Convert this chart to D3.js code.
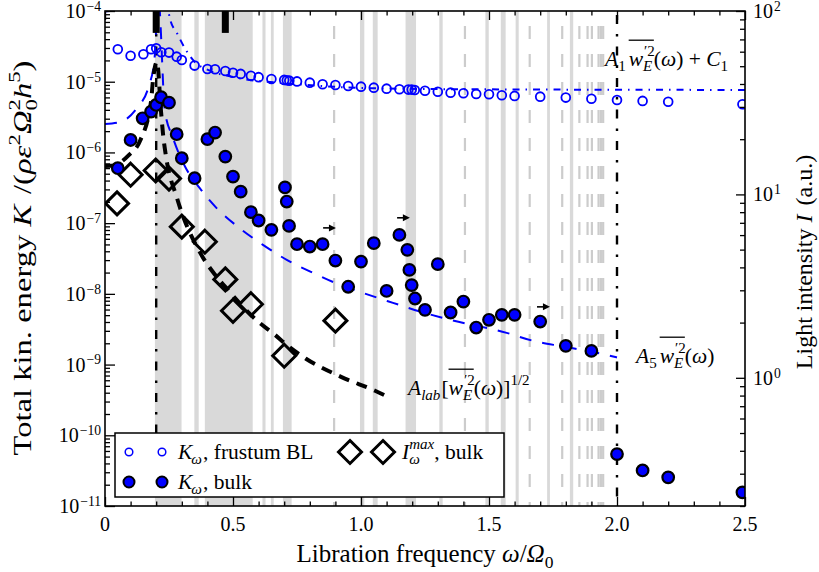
<!DOCTYPE html>
<html>
<head>
<meta charset="utf-8">
<script src="https://cdn.jsdelivr.net/npm/d3@7"></script>
<style>
  body { margin: 0; background: #fff; }
  svg text { font-family: "Liberation Serif", "DejaVu Serif", serif; fill: #000; white-space: pre; }
</style>
</head>
<body>
<svg id="chart" width="819" height="572"></svg>
<script>
// ── Kinetic energy, frustum boundary layer (open circles) ──
const omegaBL = [0.05, 0.10, 0.15, 0.18, 0.20, 0.22, 0.25, 0.28, 0.30, 0.35, 0.40, 0.43, 0.47, 0.50,
  0.53, 0.57, 0.60, 0.65, 0.70, 0.71, 0.72, 0.75, 0.80, 0.85, 0.90, 0.95, 1.00, 1.05, 1.10, 1.15,
  1.185, 1.198, 1.21, 1.25, 1.30, 1.35, 1.40, 1.45, 1.50, 1.55, 1.60, 1.70, 1.80, 1.90, 2.00, 2.10,
  2.20, 2.49];
const kinBL = [2.88e-5, 2.33e-5, 2.44e-5, 2.88e-5, 2.97e-5, 2.61e-5, 2.58e-5, 2.26e-5, 2.03e-5, 1.69e-5,
  1.51e-5, 1.50e-5, 1.42e-5, 1.34e-5, 1.29e-5, 1.21e-5, 1.16e-5, 1.09e-5, 1.06e-5, 1.05e-5, 1.035e-5,
  1.01e-5, 9.70e-6, 9.20e-6, 8.99e-6, 8.71e-6, 8.51e-6, 8.24e-6, 7.98e-6, 7.82e-6, 7.73e-6, 7.73e-6,
  7.64e-6, 7.46e-6, 7.23e-6, 7.00e-6, 6.87e-6, 6.71e-6, 6.65e-6, 6.43e-6, 6.30e-6, 6.15e-6, 5.96e-6,
  5.75e-6, 5.52e-6, 5.35e-6, 5.22e-6, 4.80e-6];

// ── Kinetic energy, bulk (filled circles) ──
const omegaBulk = [0.05, 0.10, 0.147, 0.18, 0.20, 0.219, 0.25, 0.28, 0.30, 0.35, 0.40, 0.43, 0.47, 0.50,
  0.53, 0.57, 0.60, 0.65, 0.703, 0.71, 0.719, 0.75, 0.80, 0.85, 0.90, 0.95, 1.00, 1.05, 1.10, 1.15,
  1.181, 1.189, 1.198, 1.211, 1.25, 1.30, 1.35, 1.40, 1.45, 1.50, 1.55, 1.60, 1.70, 1.80, 1.90, 2.00,
  2.10, 2.20, 2.49];
const kinBulk = [5.98e-7, 1.50e-6, 3.04e-6, 3.78e-6, 4.69e-6, 6.03e-6, 5.06e-6, 1.81e-6, 8.28e-7, 4.32e-7,
  1.54e-6, 1.91e-6, 8.73e-7, 4.55e-7, 2.79e-7, 1.43e-7, 1.09e-7, 8.04e-8, 3.20e-7, 2.02e-7, 9.14e-8,
  5.04e-8, 4.67e-8, 5.04e-8, 2.96e-8, 1.26e-8, 2.86e-8, 5.21e-8, 1.10e-8, 6.82e-8, 4.19e-8, 2.18e-8,
  1.33e-8, 8.59e-9, 5.94e-9, 2.63e-8, 5.45e-9, 7.78e-9, 3.34e-9, 4.30e-9, 5.05e-9, 5.05e-9, 4.06e-9,
  1.84e-9, 1.56e-9, 5.42e-11, 3.18e-11, 2.54e-11, 1.56e-11];

// ── Max light intensity, bulk (diamonds, right axis) ──
const omegaLight = [0.047, 0.10, 0.198, 0.25, 0.30, 0.39, 0.47, 0.50, 0.57, 0.70, 0.90];
const lightMax = [8.93, 12.8, 13.5, 12.2, 6.67, 5.52, 3.44, 2.32, 2.52, 1.32, 2.05];

// ── Model curves ──
const omegaA1 = [0, 0.03, 0.10, 0.18, 0.205, 0.235, 0.254, 0.281, 0.316, 0.35, 0.40, 0.50, 0.55, 0.70,
  0.94, 1.10, 1.50, 2.50];
const fitA1 = [9.8e-5, 1.02e-4, 1.6e-4, 5e-4, 1.6e-3, 2e-4, 7.71e-5, 4.89e-5, 2.81e-5, 1.91e-5, 1.48e-5,
  1.17e-5, 1.08e-5, 9.55e-6, 8.32e-6, 8.0e-6, 7.8e-6, 7.65e-6];
const omegaA5 = [0, 0.059, 0.125, 0.170, 0.193, 0.201, 0.208, 0.234, 0.264, 0.3125, 0.371, 0.439, 0.527,
  0.617, 0.710, 0.8125, 0.918, 1.008, 1.125, 1.230, 1.348, 1.569, 1.672, 1.789, 1.921, 2.0];
const fitA5 = [2.53e-6, 2.70e-6, 4.26e-6, 8.43e-6, 2.03e-5, 6.55e-5, 1.6e-4, 3.86e-6, 1.66e-6, 6.34e-7,
  3.10e-7, 1.59e-7, 8.43e-8, 4.93e-8, 3.03e-8, 1.98e-8, 1.34e-8, 1.03e-8, 7.46e-9, 5.62e-9, 4.30e-9,
  2.81e-9, 2.17e-9, 1.80e-9, 1.47e-9, 1.26e-9];
const omegaLab = [0, 0.023, 0.094, 0.137, 0.180, 0.1875, 0.203, 0.219, 0.227, 0.238, 0.281, 0.379, 0.430,
  0.480, 0.590, 0.664, 0.719, 0.785, 0.922, 1.055, 1.113];
const fitLab = [6.44e-7, 6.46e-7, 9.23e-7, 1.46e-6, 5.35e-6, 1.06e-5, 1.91e-5, 3.73e-6, 1.77e-6, 8.93e-7,
  2.28e-7, 3.44e-8, 1.86e-8, 1.14e-8, 4.30e-9, 2.63e-9, 1.78e-9, 1.21e-9, 6.71e-10, 4.26e-10, 3.39e-10];

// ── Grey frequency bands and dashed grey lines ──
const bandStart = [0.195, 0.349, 0.390, 0.615, 0.648, 0.695, 0.996, 1.046, 1.174, 1.306, 1.486, 1.546,
  1.604, 1.727, 1.816];
const bandEnd = [0.299, 0.366, 0.577, 0.627, 0.659, 0.729, 1.013, 1.065, 1.215, 1.319, 1.499, 1.565,
  1.616, 1.738, 1.829];
const dashedOmega = [0.895, 1.406, 1.659, 1.786, 1.853, 1.885, 1.902, 1.928, 1.937, 1.946];

// ── Other markers ──
const forcingOmega = [0.2, 2.0];
const topMarkOmega = [0.2, 0.47];
const arrowFrom = [0.852, 1.141, 1.6875];
const arrowTo = [0.902, 1.191, 1.738];
const arrowK = [8.57e-8, 1.19e-7, 6.55e-9];

// ── Ticks ──
const xMajor = [0, 0.5, 1.0, 1.5, 2.0, 2.5];
const xMajorLabels = ["0", "0.5", "1.0", "1.5", "2.0", "2.5"];
const leftExp = [-11, -10, -9, -8, -7, -6, -5, -4];
const rightExp = [0, 1, 2];

// ── Dimensions ──
const m = { l: 105, r: 745, t: 11, b: 506 };
const svg = d3.select("#chart");

const x = d3.scaleLinear().domain([0, 2.5]).range([m.l, m.r]);
const yK = d3.scaleLog().domain([1e-11, 1e-4]).range([m.b, m.t]);
const yI = d3.scaleLog().domain([0.2, 100]).range([m.b, m.t]);

svg.append("defs").append("clipPath").attr("id", "plot-clip")
  .append("rect").attr("x", m.l).attr("y", m.t)
  .attr("width", m.r - m.l).attr("height", m.b - m.t);

const plot = svg.append("g").attr("clip-path", "url(#plot-clip)");

// ── Rich text helper: sequential pieces with sub/superscripts and overlines ──
function rich(parent, x0, y0, parts, fs, opt = {}) {
  const g = parent.append("g");
  const supUp = opt.supUp || 0.45, supSz = opt.supSz || 0.7;
  let cx = x0, olx = null;
  const put = (t, xx, yy, size, it) => g.append("text")
    .attr("x", xx).attr("y", yy).attr("font-size", size)
    .attr("font-style", it ? "italic" : "normal").text(t)
    .node().getComputedTextLength();
  parts.forEach(p => {
    if (p.ol === "start") { olx = cx; return; }
    if (p.ol === "end") {
      g.append("line").attr("x1", olx).attr("x2", cx)
        .attr("y1", y0 - fs * 1.2).attr("y2", y0 - fs * 1.2)
        .attr("stroke", "#000").attr("stroke-width", 1.3);
      return;
    }
    let w = p.t ? put(p.t, cx, y0, fs, p.i) : 0;
    let w2 = 0;
    if (p.sup) w2 = Math.max(w2, put(p.sup, cx + w + (p.sx || 0), y0 - fs * supUp, fs * supSz, p.si));
    if (p.sub) w2 = Math.max(w2, put(p.sub, cx + w + (p.bx || 0), y0 + fs * 0.25, fs * 0.7, p.bi));
    cx += w + w2 + (p.gap || 0);
  });
  return { g, width: cx - x0 };
}

// ── Grey bands ──
plot.selectAll(".band")
  .data(d3.range(bandStart.length))
  .join("rect")
  .attr("x", i => x(bandStart[i]))
  .attr("width", i => x(bandEnd[i]) - x(bandStart[i]))
  .attr("y", m.t).attr("height", m.b - m.t)
  .attr("fill", "#d9d9d9");

plot.selectAll(".gdash")
  .data(dashedOmega)
  .join("line")
  .attr("x1", d => x(d)).attr("x2", d => x(d))
  .attr("y1", m.t).attr("y2", m.b)
  .attr("stroke", "#cccccc").attr("stroke-width", 2.2)
  .attr("stroke-dasharray", "13,15").attr("stroke-dashoffset", 13);

// ── Forcing lines (black dash-dot) ──
plot.selectAll(".forcing")
  .data(forcingOmega)
  .join("line")
  .attr("x1", d => x(d)).attr("x2", d => x(d))
  .attr("y1", m.t).attr("y2", m.b)
  .attr("stroke", "#000").attr("stroke-width", 2.4)
  .attr("stroke-dasharray", "9,10,2.5,10").attr("stroke-dashoffset", -4);

// ── Model curves ──
const curve = (ws, ks) => d3.line()
  .x(i => x(ws[i])).y(i => yK(ks[i]))
  .curve(d3.curveMonotoneX)(d3.range(ws.length));

plot.append("path").attr("d", curve(omegaA1, fitA1))
  .attr("fill", "none").attr("stroke", "#0000ff").attr("stroke-width", 2)
  .attr("stroke-dasharray", "7,6,1.5,6");
plot.append("path").attr("d", curve(omegaA5, fitA5))
  .attr("fill", "none").attr("stroke", "#0000ff").attr("stroke-width", 2)
  .attr("stroke-dasharray", "12,11");
plot.append("path").attr("d", curve(omegaLab, fitLab))
  .attr("fill", "none").attr("stroke", "#000").attr("stroke-width", 4)
  .attr("stroke-dasharray", "11,8");

// ── Markers ──
function diamond(sel, r) {
  sel.attr("d", `M0,${-r}L${r},0L0,${r}L${-r},0Z`)
    .attr("fill", "none").attr("stroke", "#000").attr("stroke-width", 3)
    .attr("stroke-linejoin", "miter");
}

plot.selectAll(".bl")
  .data(d3.range(omegaBL.length))
  .join("circle")
  .attr("cx", i => x(omegaBL[i])).attr("cy", i => yK(kinBL[i]))
  .attr("r", 4.4).attr("fill", "none").attr("stroke", "#0000ff").attr("stroke-width", 1.8);

plot.selectAll(".light")
  .data(d3.range(omegaLight.length))
  .join("path")
  .attr("transform", i => `translate(${x(omegaLight[i])},${yI(lightMax[i])})`)
  .call(diamond, 11.5);

plot.selectAll(".bulk")
  .data(d3.range(omegaBulk.length))
  .join("circle")
  .attr("cx", i => x(omegaBulk[i])).attr("cy", i => yK(kinBulk[i]))
  .attr("r", 5.8).attr("fill", "#0000ff").attr("stroke", "#000").attr("stroke-width", 2.2);

// ── Arrows ──
arrowFrom.forEach((a, i) => {
  const x1 = x(a), x2 = x(arrowTo[i]), yy = yK(arrowK[i]);
  plot.append("line").attr("x1", x1).attr("x2", x2 - 5).attr("y1", yy).attr("y2", yy)
    .attr("stroke", "#000").attr("stroke-width", 1.6);
  plot.append("path").attr("d", `M${x2},${yy}L${x2 - 7},${yy - 3.5}L${x2 - 7},${yy + 3.5}Z`)
    .attr("fill", "#000");
});

// ── Thick marks on the top edge ──
plot.selectAll(".topmark")
  .data(topMarkOmega)
  .join("rect")
  .attr("x", d => x(d) - 3.5).attr("width", 7)
  .attr("y", m.t).attr("height", yK(4.9e-5) - m.t)
  .attr("fill", "#000");

// ── Curve annotations ──
const FS = 21.5;
const wPart = [
  { ol: "start" },
  { t: "w", i: true, sup: "′2", sub: "E", bi: true, sx: 1 },
  { ol: "end" }
];
rich(svg, 605, 66, [{ t: "A", i: true, sub: "1", gap: 3 }, ...wPart,
  { t: "(" }, { t: "ω", i: true }, { t: ") + " }, { t: "C", i: true, sub: "1" }], FS);
rich(svg, 636, 363, [{ t: "A", i: true, sub: "5", gap: 3 }, ...wPart,
  { t: "(" }, { t: "ω", i: true }, { t: ")" }], FS);
rich(svg, 408, 395, [{ t: "A", i: true, sub: "lab", bi: true, gap: 1 }, { t: "[" }, ...wPart,
  { t: "(" }, { t: "ω", i: true }, { t: ")]", sup: "1/2" }], FS);

// ── Legend ──
const lg = svg.append("g");
lg.append("rect").attr("x", 115).attr("y", 433).attr("width", 389).attr("height", 64)
  .attr("fill", "#fff").attr("stroke", "#000").attr("stroke-width", 1.5);
[129, 162].forEach(cx => {
  lg.append("circle").attr("cx", cx).attr("cy", 452).attr("r", 3.8)
    .attr("fill", "none").attr("stroke", "#0000ff").attr("stroke-width", 1.5);
  lg.append("circle").attr("cx", cx).attr("cy", 482).attr("r", 5.5)
    .attr("fill", "#0000ff").attr("stroke", "#000").attr("stroke-width", 2);
});
[350, 383].forEach(cx => {
  lg.append("path").attr("transform", `translate(${cx},452)`).call(diamond, 11.5);
});
rich(lg, 178, 459, [{ t: "K", i: true, sub: "ω", bi: true, bx: -1 }, { t: ", frustum BL" }], FS);
rich(lg, 178, 489, [{ t: "K", i: true, sub: "ω", bi: true, bx: -1 }, { t: ", bulk" }], FS);
rich(lg, 402, 459, [{ t: "I", i: true, sup: "max", si: true, sub: "ω", bi: true }, { t: ", bulk" }], FS);

// ── Axes: ticks drawn inward ──
const axes = svg.append("g");
const xMinor = d3.range(0, 26).map(d => d / 10).filter(d => Math.abs(d * 2 - Math.round(d * 2)) > 1e-6);
const styleAxis = g => {
  g.select(".domain").remove();
  g.selectAll("line").attr("stroke", "#000").attr("stroke-width", 1.3);
  g.selectAll("text").remove();
};
axes.append("g").attr("transform", `translate(0,${m.b})`)
  .call(d3.axisBottom(x).tickValues(xMajor).tickSize(-9)).call(styleAxis);
axes.append("g").attr("transform", `translate(0,${m.b})`)
  .call(d3.axisBottom(x).tickValues(xMinor).tickSize(-4.5)).call(styleAxis);
axes.append("g").attr("transform", `translate(0,${m.t})`)
  .call(d3.axisTop(x).tickValues(xMajor).tickSize(-9)).call(styleAxis);
axes.append("g").attr("transform", `translate(0,${m.t})`)
  .call(d3.axisTop(x).tickValues(xMinor).tickSize(-4.5)).call(styleAxis);

const leftMajor = leftExp.map(e => Math.pow(10, e));
const leftMinor = leftExp.slice(0, -1).flatMap(e => d3.range(2, 10).map(k => k * Math.pow(10, e)));
axes.append("g").attr("transform", `translate(${m.l},0)`)
  .call(d3.axisLeft(yK).tickValues(leftMajor).tickSize(-10)).call(styleAxis);
axes.append("g").attr("transform", `translate(${m.l},0)`)
  .call(d3.axisLeft(yK).tickValues(leftMinor).tickSize(-5)).call(styleAxis);

const rightMajor = rightExp.map(e => Math.pow(10, e));
const rightMinor = [-1, 0, 1].flatMap(e => d3.range(2, 10).map(k => k * Math.pow(10, e)))
  .filter(v => v >= 0.2 - 1e-9);
axes.append("g").attr("transform", `translate(${m.r},0)`)
  .call(d3.axisRight(yI).tickValues(rightMajor).tickSize(-9)).call(styleAxis);
axes.append("g").attr("transform", `translate(${m.r},0)`)
  .call(d3.axisRight(yI).tickValues(rightMinor).tickSize(-5)).call(styleAxis);

axes.append("rect").attr("x", m.l).attr("y", m.t)
  .attr("width", m.r - m.l).attr("height", m.b - m.t)
  .attr("fill", "none").attr("stroke", "#000").attr("stroke-width", 1.6);

// ── Tick labels ──
const TFS = 20;
xMajor.forEach((v, i) => {
  svg.append("text").attr("x", x(v)).attr("y", 531).attr("text-anchor", "middle")
    .attr("font-size", TFS).text(xMajorLabels[i]);
});
const expOpt = { supUp: 0.36, supSz: 0.68 };
leftExp.forEach(e => {
  const r = rich(svg, 0, yK(Math.pow(10, e)) + 7, [{ t: "10", sup: "−" + Math.abs(e), sx: 1 }], TFS, expOpt);
  r.g.attr("transform", `translate(${m.l - 5 - r.width},0)`);
});
rightExp.forEach(e => {
  rich(svg, 753, yI(Math.pow(10, e)) + 7, [{ t: "10", sup: String(e), sx: 1 }], TFS, expOpt);
});

// ── Axis titles ──
{
  const r = rich(svg, 0, 562, [{ t: "Libration frequency " }, { t: "ω", i: true }, { t: "/" },
    { t: "Ω", i: true, sub: "0" }], 25);
  r.g.attr("transform", `translate(${(m.l + m.r) / 2 - r.width / 2},0)`);
}
{
  // left title: stretched along its length to span the axis like the reference
  const g = svg.append("g").attr("transform", "translate(31,258) rotate(-90)");
  const r = rich(g, 0, 0, [{ t: "Total kin. energy " }, { t: "K", i: true, gap: 2 }, { t: " /(" },
    { t: "ρε", i: true, sup: "2" }, { t: "Ω", i: true, sup: "2", sub: "0" }, { t: "h", i: true, sup: "5" },
    { t: ")" }], 25);
  const s = 395 / r.width;
  r.g.attr("transform", `scale(${s},1) translate(${-r.width / 2},0)`);
}
{
  const g = svg.append("g").attr("transform", "translate(812,262) rotate(-90)");
  const r = rich(g, 0, 0, [{ t: "Light intensity " }, { t: "I", i: true, gap: 3 }, { t: " (a.u.)" }], 24);
  r.g.attr("transform", `translate(${-r.width / 2},0)`);
}
</script>
</body>
</html>
